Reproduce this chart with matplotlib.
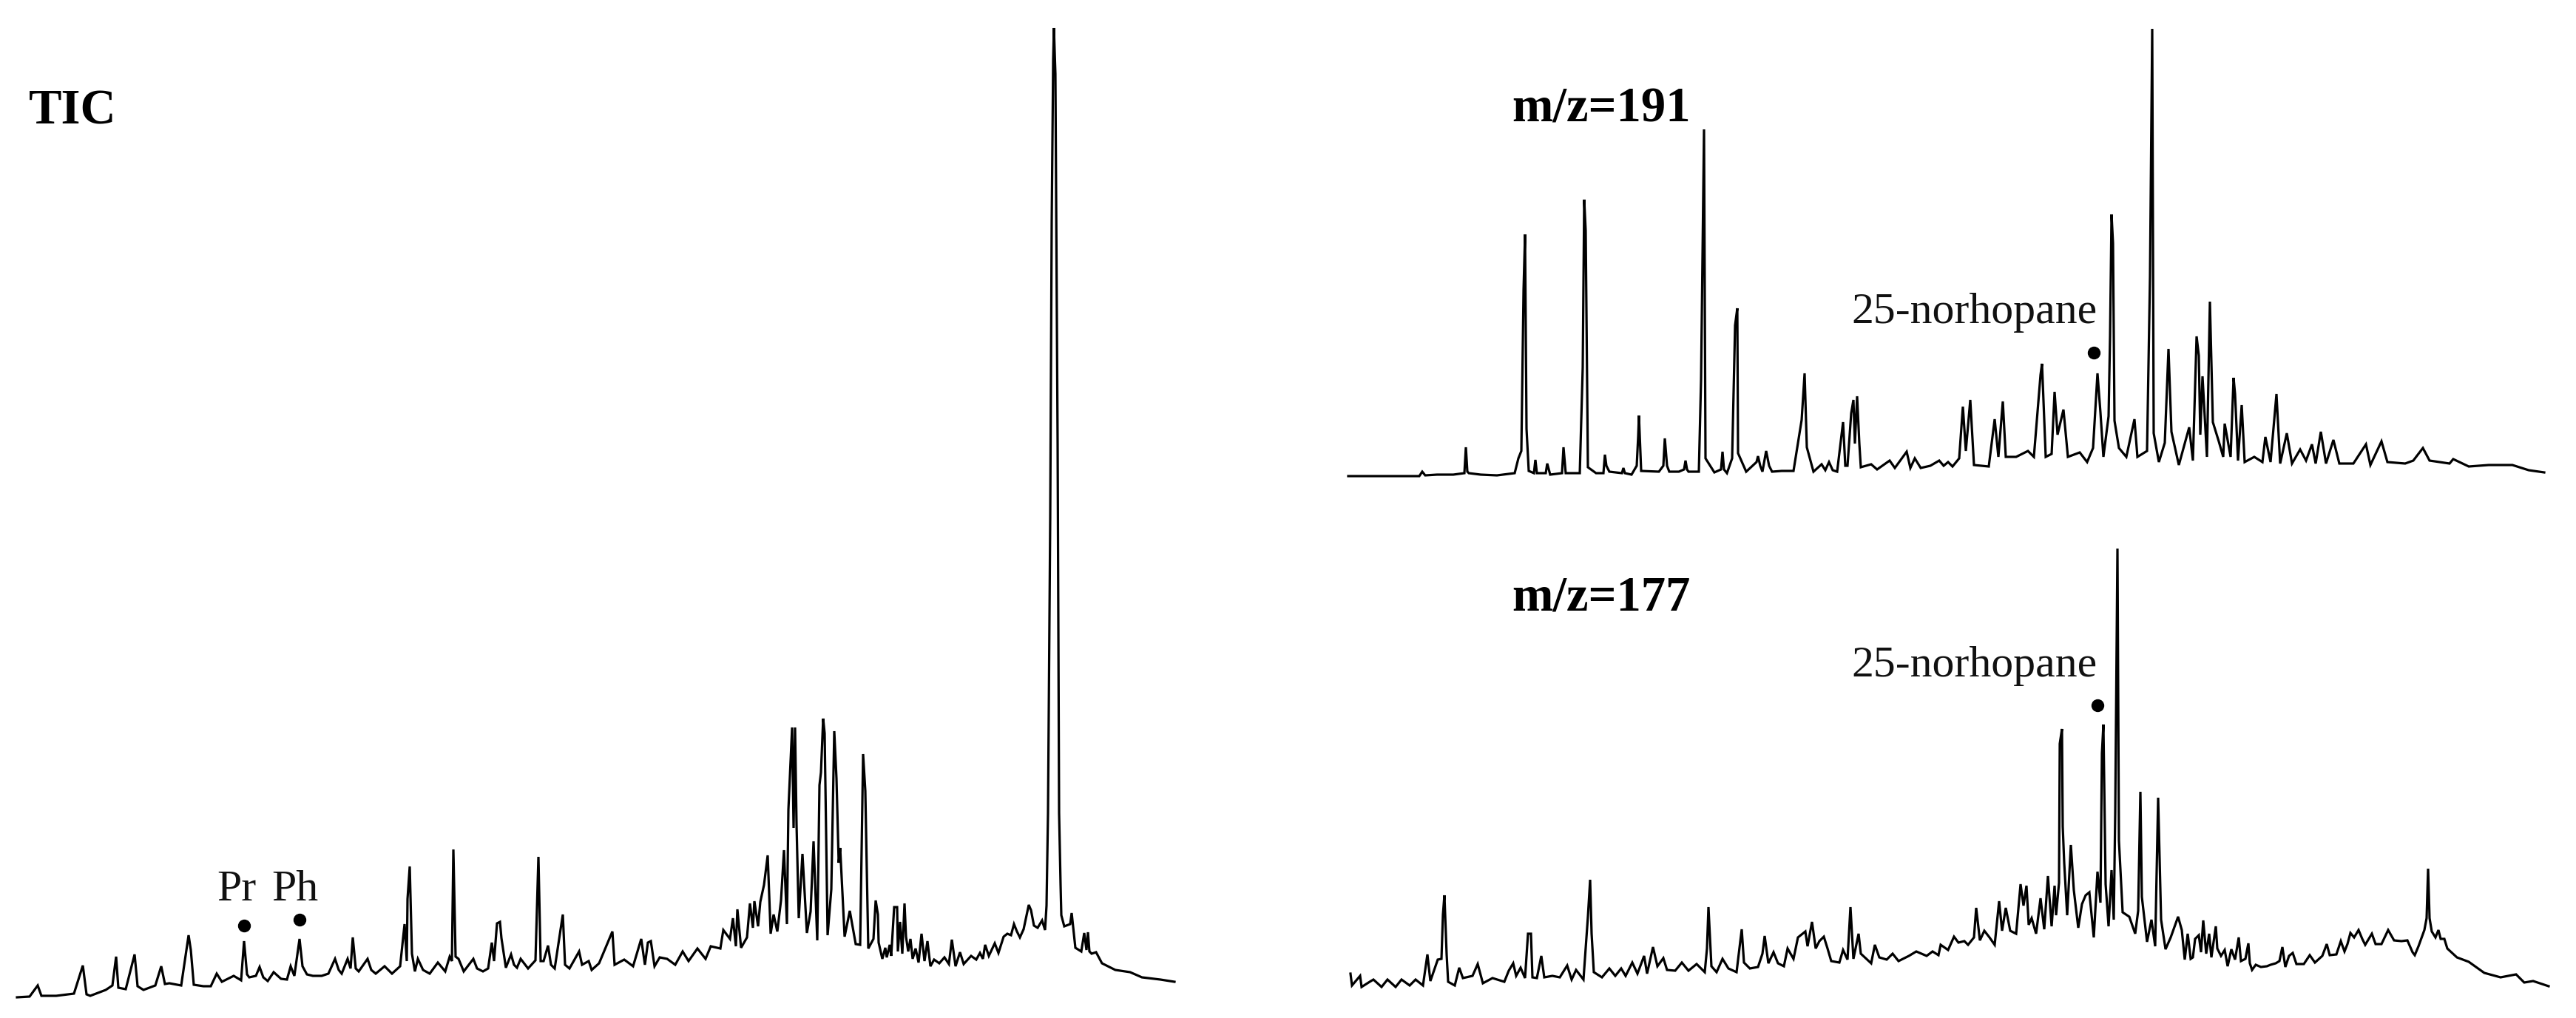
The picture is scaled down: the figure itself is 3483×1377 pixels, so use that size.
import matplotlib
matplotlib.use('Agg')
import matplotlib.pyplot as plt

# figure size in pixels (saved at dpi 100)
W, H = 3483, 1377

# ---- TIC trace: (scan, abundance) ----
tic_points = [
    (23, 11), (40, 12), (51, 27), (56, 13), (76, 13), (100, 16), (112, 54), (117, 15), (122, 13), (143, 21),
    (152, 27), (157, 66), (160, 24), (170, 22), (182, 69), (186, 26), (194, 21), (210, 27), (218, 53), (223, 29),
    (229, 30), (245, 27), (255, 95), (258, 75), (262, 28), (275, 26), (285, 26), (293, 43), (300, 32), (316, 40),
    (326, 34), (330, 87), (334, 42), (337, 38), (346, 40), (351, 52), (356, 38), (362, 33), (370, 45), (380, 36),
    (388, 35), (393, 53), (398, 40), (405, 90), (409, 53), (415, 42), (423, 40), (435, 40), (444, 43), (453, 63),
    (458, 48), (462, 43), (470, 63), (474, 50), (477, 92), (481, 50), (485, 46), (497, 63), (502, 48), (508, 43),
    (520, 53), (530, 43), (541, 53), (547, 110), (550, 60), (551, 144), (554, 188), (557, 70), (561, 46), (565, 63),
    (572, 48), (581, 43), (592, 58), (602, 46), (608, 66), (611, 60), (613, 211), (616, 66), (620, 63), (627, 46),
    (640, 63), (645, 50), (653, 46), (660, 50), (665, 85), (668, 60), (672, 111), (676, 113), (678, 91), (684, 51),
    (691, 69), (695, 55), (699, 51), (704, 63), (714, 50), (724, 61), (728, 201), (731, 60), (735, 60), (741, 81),
    (745, 55), (750, 50), (761, 123), (764, 55), (770, 50), (783, 73), (787, 55), (796, 60), (800, 48), (810, 57),
    (828, 100), (831, 55), (844, 62), (856, 53), (867, 90), (872, 55), (876, 85), (880, 87), (885, 53), (892, 65),
    (902, 63), (913, 55), (923, 73), (931, 60), (943, 77), (954, 63), (961, 80), (974, 77), (978, 102), (987, 90),
    (991, 118), (995, 80), (997, 130), (1002, 78), (1010, 92), (1014, 138), (1018, 105), (1020, 141), (1025, 107),
    (1028, 140), (1033, 163), (1038, 203), (1042, 97), (1046, 123), (1051, 100), (1056, 142), (1060, 210),
    (1064, 110), (1066, 265), (1071, 376), (1073, 240), (1075, 376), (1077, 245), (1080, 118), (1085, 205),
    (1091, 98), (1096, 127), (1100, 222), (1105, 88), (1108, 298), (1110, 315), (1113, 388), (1115, 368),
    (1119, 95), (1124, 157), (1128, 371), (1131, 307), (1134, 193), (1136, 213), (1142, 93), (1149, 128),
    (1157, 83), (1163, 82), (1167, 340), (1170, 290), (1174, 77), (1181, 90), (1184, 142), (1187, 123),
    (1188, 85), (1193, 63), (1197, 78), (1199, 65), (1203, 82), (1205, 67), (1209, 133), (1213, 133), (1214, 73),
    (1217, 113), (1220, 70), (1223, 138), (1225, 93), (1228, 73), (1231, 90), (1234, 63), (1238, 77), (1242, 58),
    (1246, 97), (1250, 60), (1254, 87), (1258, 53), (1263, 62), (1270, 57), (1277, 65), (1283, 56), (1287, 89),
    (1292, 53), (1298, 72), (1303, 56), (1313, 67), (1320, 62), (1325, 71), (1329, 63), (1332, 82), (1337, 67),
    (1345, 84), (1350, 71), (1357, 93), (1362, 97), (1367, 95), (1371, 110), (1375, 100), (1379, 92), (1384, 103),
    (1391, 136), (1394, 129), (1398, 108), (1403, 105), (1409, 115), (1413, 102), (1415, 135), (1417, 260),
    (1420, 660), (1422, 1060), (1424, 1280), (1425, 1322), (1427, 1260), (1430, 760), (1432, 260), (1434, 163),
    (1435, 122), (1439, 107), (1447, 110), (1449, 125), (1454, 78), (1462, 73), (1466, 98), (1469, 75), (1471, 99),
    (1473, 73), (1476, 70), (1482, 72), (1490, 57), (1508, 48), (1528, 45), (1544, 38), (1569, 35), (1588, 32),
]

# ---- m/z 191 trace ----
m191_points = [
    (1823, 6), (1919, 6), (1923, 12), (1927, 7), (1943, 8), (1965, 8), (1980, 10), (1982, 45), (1984, 12),
    (1986, 10), (2002, 8), (2024, 7), (2048, 10), (2053, 30), (2057, 40), (2060, 258), (2062, 333), (2064, 70),
    (2067, 13), (2074, 10), (2076, 28), (2078, 10), (2090, 10), (2092, 23), (2096, 8), (2112, 10), (2114, 45),
    (2117, 10), (2136, 10), (2140, 153), (2142, 380), (2144, 338), (2147, 18), (2158, 10), (2168, 10), (2170, 35),
    (2172, 20), (2176, 12), (2193, 10), (2195, 17), (2197, 10), (2206, 8), (2213, 20), (2215, 60), (2216, 88),
    (2219, 13), (2243, 12), (2249, 20), (2251, 57), (2254, 20), (2257, 12), (2270, 12), (2277, 15), (2279, 27),
    (2281, 15), (2283, 12), (2297, 12), (2300, 137), (2304, 475), (2306, 30), (2318, 11), (2327, 15), (2329, 39),
    (2331, 15), (2335, 10), (2342, 30), (2346, 210), (2349, 233), (2350, 37), (2361, 12), (2375, 25), (2377, 33),
    (2380, 20), (2383, 12), (2388, 40), (2392, 20), (2396, 12), (2409, 13), (2425, 13), (2436, 82), (2440, 145),
    (2443, 45), (2452, 12), (2463, 22), (2468, 14), (2473, 25), (2478, 14), (2484, 12), (2492, 79), (2495, 20),
    (2498, 20), (2503, 91), (2506, 109), (2508, 50), (2511, 114), (2514, 50), (2516, 18), (2530, 22), (2538, 15),
    (2555, 27), (2562, 17), (2578, 39), (2583, 17), (2589, 30), (2597, 17), (2610, 20), (2622, 27), (2628, 20),
    (2634, 25), (2640, 19), (2649, 30), (2654, 100), (2658, 40), (2664, 109), (2669, 21), (2689, 19), (2697, 83),
    (2702, 32), (2708, 107), (2712, 32), (2726, 32), (2742, 40), (2750, 32), (2759, 143), (2761, 158), (2766, 32),
    (2774, 36), (2778, 120), (2782, 62), (2790, 96), (2796, 32), (2812, 38), (2822, 25), (2830, 44), (2836, 145),
    (2840, 92), (2844, 32), (2851, 87), (2853, 195), (2855, 360), (2857, 321), (2859, 81), (2865, 44), (2875, 32),
    (2886, 83), (2890, 32), (2903, 40), (2907, 276), (2910, 611), (2912, 64), (2919, 25), (2927, 51), (2932, 178),
    (2936, 66), (2946, 21), (2960, 72), (2965, 27), (2970, 195), (2973, 169), (2975, 62), (2978, 141), (2984, 32),
    (2988, 242), (2992, 79), (3000, 53), (3006, 32), (3008, 77), (3016, 32), (3020, 139), (3022, 117), (3026, 27),
    (3031, 102), (3035, 25), (3048, 32), (3059, 25), (3063, 59), (3070, 25), (3078, 117), (3083, 23), (3092, 64),
    (3099, 23), (3110, 42), (3118, 27), (3126, 49), (3131, 23), (3138, 66), (3145, 23), (3155, 55), (3163, 23),
    (3182, 23), (3199, 49), (3205, 21), (3220, 53), (3228, 25), (3252, 23), (3263, 27), (3276, 44), (3285, 27),
    (3312, 23), (3317, 29), (3338, 19), (3365, 21), (3397, 21), (3419, 14), (3440, 11),
]

# ---- m/z 177 trace ----
m177_points = [
    (1826, 23), (1828, 7), (1839, 20), (1841, 5), (1852, 12), (1857, 15), (1868, 5), (1876, 15), (1887, 5),
    (1895, 15), (1906, 7), (1914, 15), (1924, 7), (1930, 49), (1934, 13), (1944, 42), (1949, 43), (1951, 103),
    (1953, 129), (1956, 49), (1958, 12), (1967, 7), (1973, 31), (1978, 17), (1991, 20), (1998, 36), (2005, 10),
    (2018, 17), (2034, 12), (2040, 27), (2046, 37), (2050, 20), (2056, 31), (2062, 17), (2066, 77), (2070, 77),
    (2072, 18), (2078, 17), (2084, 47), (2088, 18), (2099, 20), (2109, 18), (2119, 34), (2125, 15), (2131, 28),
    (2141, 15), (2147, 100), (2150, 150), (2152, 77), (2155, 25), (2166, 18), (2176, 30), (2184, 20), (2192, 30),
    (2198, 20), (2207, 38), (2214, 23), (2223, 47), (2227, 23), (2235, 59), (2241, 33), (2249, 44), (2254, 28),
    (2265, 27), (2274, 38), (2283, 27), (2294, 36), (2305, 25), (2308, 57), (2310, 113), (2314, 33), (2321, 25),
    (2329, 43), (2337, 30), (2348, 25), (2355, 83), (2358, 38), (2366, 30), (2377, 32), (2383, 50), (2386, 74),
    (2391, 37), (2398, 52), (2404, 37), (2412, 33), (2417, 57), (2425, 43), (2431, 72), (2441, 80), (2444, 60),
    (2450, 93), (2455, 57), (2460, 67), (2466, 73), (2471, 57), (2476, 40), (2487, 38), (2492, 55), (2498, 42),
    (2502, 113), (2506, 43), (2513, 77), (2516, 50), (2530, 37), (2535, 62), (2541, 45), (2551, 42), (2559, 50),
    (2567, 40), (2581, 47), (2591, 53), (2605, 47), (2613, 53), (2621, 48), (2624, 62), (2634, 55), (2642, 73),
    (2648, 65), (2656, 67), (2661, 62), (2669, 72), (2672, 112), (2677, 68), (2683, 81), (2690, 72), (2697, 62),
    (2703, 121), (2707, 81), (2712, 112), (2718, 81), (2726, 77), (2732, 144), (2736, 115), (2740, 142), (2743, 89),
    (2747, 98), (2753, 77), (2759, 125), (2764, 83), (2769, 155), (2774, 87), (2778, 142), (2780, 102), (2784, 146),
    (2785, 334), (2788, 354), (2789, 222), (2791, 173), (2795, 102), (2800, 197), (2804, 136), (2810, 85),
    (2815, 117), (2820, 129), (2825, 133), (2831, 72), (2836, 161), (2840, 119), (2842, 321), (2844, 360),
    (2847, 144), (2851, 87), (2855, 163), (2858, 96), (2860, 241), (2863, 598), (2865, 203), (2870, 106),
    (2879, 100), (2887, 77), (2891, 108), (2894, 269), (2896, 127), (2903, 66), (2909, 96), (2914, 60), (2918, 261),
    (2922, 96), (2928, 56), (2935, 72), (2945, 100), (2950, 82), (2954, 42), (2958, 77), (2962, 43), (2965, 45),
    (2968, 70), (2973, 75), (2976, 52), (2979, 95), (2983, 50), (2987, 77), (2990, 45), (2996, 87), (2998, 57),
    (3003, 47), (3008, 55), (3012, 33), (3017, 56), (3022, 42), (3027, 72), (3030, 40), (3036, 43), (3040, 64),
    (3042, 37), (3045, 28), (3050, 35), (3057, 32), (3065, 33), (3070, 35), (3077, 37), (3082, 40), (3086, 59),
    (3090, 32), (3095, 47), (3100, 51), (3105, 36), (3115, 36), (3123, 48), (3130, 38), (3140, 47), (3146, 63),
    (3150, 48), (3159, 49), (3165, 67), (3170, 53), (3174, 63), (3178, 78), (3183, 72), (3189, 82), (3194, 70),
    (3198, 62), (3207, 77), (3212, 63), (3220, 63), (3229, 82), (3237, 68), (3247, 67), (3255, 68), (3262, 52),
    (3265, 48), (3270, 60), (3278, 82), (3281, 98), (3283, 165), (3285, 98), (3288, 80), (3293, 72), (3297, 82),
    (3300, 70), (3305, 70), (3309, 57), (3322, 45), (3338, 39), (3359, 24), (3381, 18), (3402, 22), (3413, 11),
    (3425, 13), (3446, 6),
]

# ---- marked compounds ----
tic_marks = ['Pr', 'Ph']
tic_mark_scan = [330, 405]
tic_mark_abund = [108, 116]
tic_label_scan = [320, 399]
tic_label_abund = [142, 142]

nor_label = '25-norhopane'
m191_mark = (2831, 173)
m191_label = (2836, 213)
m177_mark = (2836, 386)
m177_label = (2836, 425)

plt.rcParams['font.family'] = ['Liberation Serif', 'DejaVu Serif']

fig = plt.figure(figsize=(W / 100, H / 100), dpi=100)
fig.patch.set_facecolor('white')


def add_panel(px0, px1, py_top, py_bot, y_zero):
    # axes placed by pixel box; y_zero = pixel row of zero abundance
    ax = fig.add_axes([px0 / W, (H - py_bot) / H, (px1 - px0) / W, (py_bot - py_top) / H])
    ax.set_xlim(px0, px1)
    ax.set_ylim(y_zero - py_bot, y_zero - py_top)
    ax.axis('off')
    return ax


line_kw = dict(color='black', linewidth=2.3, solid_joinstyle='miter')
dot_kw = dict(marker='o', color='black', markersize=11.5, linestyle='none')
label_kw = dict(fontsize=43, color='#111111', va='baseline')

# TIC panel
ax_tic = add_panel(0, 1620, 0, H, 1360)
tic_scan, tic_abund = zip(*tic_points)
ax_tic.plot(tic_scan, tic_abund, **line_kw)
ax_tic.plot(tic_mark_scan, tic_mark_abund, **dot_kw)
for name, x, y in zip(tic_marks, tic_label_scan, tic_label_abund):
    ax_tic.text(x, y, name, ha='center', **label_kw)

# m/z 191 panel
ax191 = add_panel(1800, W, 0, 700, 650)
m191_scan, m191_abund = zip(*m191_points)
ax191.plot(m191_scan, m191_abund, **line_kw)
ax191.plot(*m191_mark, **dot_kw)
ax191.text(*m191_label, nor_label, ha='right', **label_kw)

# m/z 177 panel
ax177 = add_panel(1800, W, 700, H, 1340)
m177_scan, m177_abund = zip(*m177_points)
ax177.plot(m177_scan, m177_abund, **line_kw)
ax177.plot(*m177_mark, **dot_kw)
ax177.text(*m177_label, nor_label, ha='right', **label_kw)

# panel titles
title_kw = dict(fontsize=48, fontweight='bold', color='black', va='baseline', ha='left')
fig.text(39 / W, 1 - 167 / H, 'TIC', **title_kw)
fig.text(2044 / W, 1 - 164 / H, 'm/z=191', **title_kw)
fig.text(2044 / W, 1 - 826 / H, 'm/z=177', **title_kw)

fig.savefig('out.png', dpi=100, facecolor='white')
